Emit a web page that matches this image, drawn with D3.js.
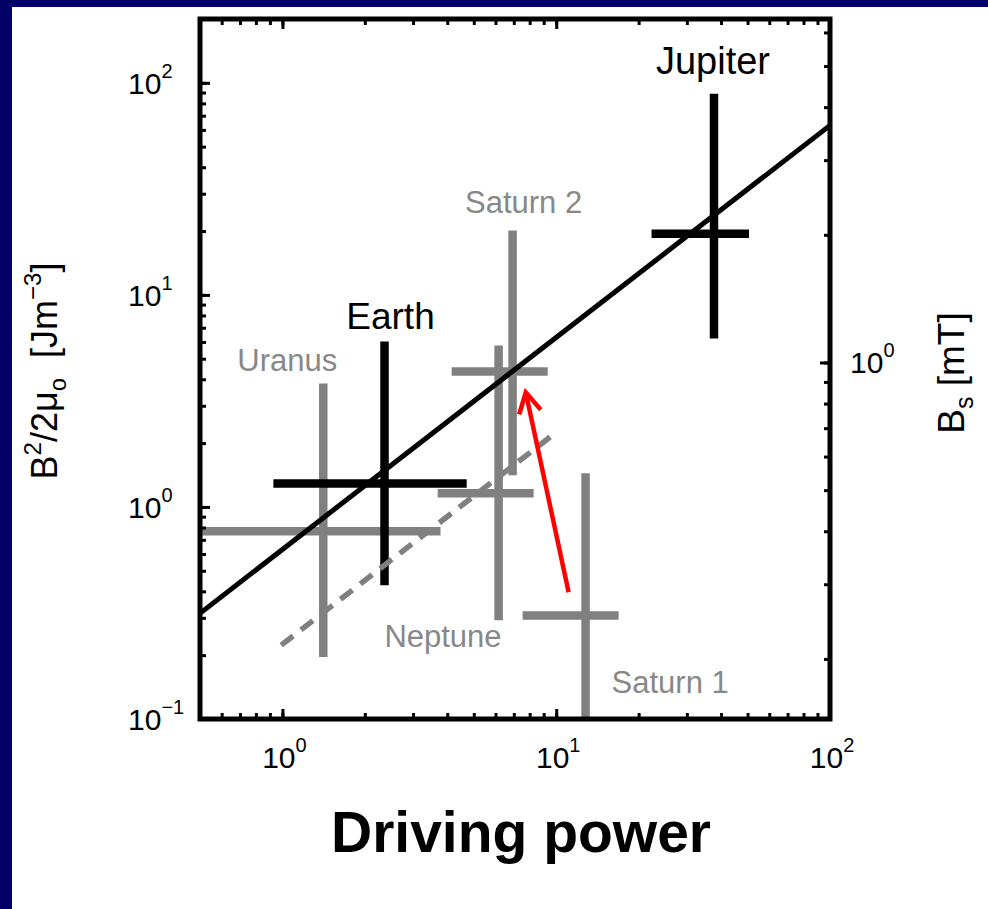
<!DOCTYPE html>
<html>
<head>
<meta charset="utf-8">
<script src="https://cdn.jsdelivr.net/npm/d3@7"></script>
<style>
  html, body { margin: 0; padding: 0; background: #ffffff; }
  svg { display: block; }
  text { font-family: "Liberation Sans", Arial, Helvetica, sans-serif; }
</style>
</head>
<body>
<svg id="chart" width="988" height="909"></svg>
<script>
// ---- data ----
const planets   = ["Uranus", "Neptune", "Saturn 1", "Saturn 2", "Earth", "Jupiter"];
const power     = [1.41, 6.16, 12.8, 6.93, 2.36, 37.7];
const powerLo   = [0.40, 3.69, 7.54, 4.15, 0.927, 22.3];
const powerHi   = [3.78, 8.27, 16.9, 9.31, 4.71, 50.6];
const energy    = [0.768, 1.16, 0.308, 4.35, 1.29, 19.4];
const energyLo  = [0.196, 0.292, 0.08, 1.41, 0.427, 6.22];
const energyHi  = [3.82, 5.77, 1.44, 20.1, 6.03, 88.8];

// best-fit scaling law and the shifted reference law (power, energy density)
const fitLine   = [[0.5, 0.315], [100, 63]];
const refLine   = [[0.99, 0.223], [9.87, 2.22]];
// Saturn shift: from Saturn 1 estimate towards Saturn 2 estimate
const shiftArrow = [[11.1, 0.396], [7.74, 3.47]];

const xTickValues = [1, 10, 100];
const xTickExp    = ["0", "1", "2"];
const yTickValues = [0.1, 1, 10, 100];
const yTickExp    = ["\u22121", "0", "1", "2"];
const bTickValues = [1];
const bTickExp    = ["0"];
const energyAtOneMilliTesla = 4.8;   // B^2/2mu0 at B_s = 1 mT on this axis

// ---- layout ----
const W = 988, H = 909;
const L = 200, R = 830, T = 19, B = 719;
const svg = d3.select("#chart");

svg.append("rect").attr("x", 0).attr("y", 0).attr("width", W).attr("height", H).attr("fill", "#fff");
// slide frame
svg.append("rect").attr("x", 0).attr("y", 0).attr("width", W).attr("height", 7).attr("fill", "#000066");
svg.append("rect").attr("x", 0).attr("y", 0).attr("width", 12).attr("height", H).attr("fill", "#000066");

const x = d3.scaleLog().domain([0.5, 100]).range([L, R]);
const y = d3.scaleLog().domain([0.1, 200]).range([B, T]);
const yB = d3.scaleLog()
  .domain([Math.sqrt(0.1 / energyAtOneMilliTesla), Math.sqrt(200 / energyAtOneMilliTesla)])
  .range([B, T]);

svg.append("clipPath").attr("id", "plotClip")
  .append("rect").attr("x", L).attr("y", T).attr("width", R - L).attr("height", B - T);

const plot = svg.append("g").attr("clip-path", "url(#plotClip)");

// ---- error crosses ----
const black = new Set(["Earth", "Jupiter"]);
const colorOf = name => black.has(name) ? "#000000" : "#808080";
const rows = planets.map((name, i) => ({
  name, p: power[i], pLo: powerLo[i], pHi: powerHi[i],
  e: energy[i], eLo: energyLo[i], eHi: energyHi[i]
}));
const order = rows.filter(d => !black.has(d.name)).concat(rows.filter(d => black.has(d.name)));

const crosses = plot.selectAll("g.cross").data(order).join("g").attr("class", "cross");
crosses.append("line")
  .attr("x1", d => x(d.pLo)).attr("x2", d => x(d.pHi))
  .attr("y1", d => y(d.e)).attr("y2", d => y(d.e))
  .attr("stroke", d => colorOf(d.name)).attr("stroke-width", 8.5);
crosses.append("line")
  .attr("x1", d => x(d.p)).attr("x2", d => x(d.p))
  .attr("y1", d => y(d.eLo)).attr("y2", d => y(d.eHi))
  .attr("stroke", d => colorOf(d.name)).attr("stroke-width", 8.5);

// ---- scaling laws ----
const line = d3.line().x(d => x(d[0])).y(d => y(d[1]));
plot.append("path").datum(refLine).attr("d", line)
  .attr("fill", "none").attr("stroke", "#808080").attr("stroke-width", 5.5)
  .attr("stroke-dasharray", "15 10");
plot.append("path").datum(fitLine).attr("d", line)
  .attr("fill", "none").attr("stroke", "#000").attr("stroke-width", 5);

// ---- arrow ----
const [a0, a1] = shiftArrow;
const ax0 = x(a0[0]), ay0 = y(a0[1]), ax1 = x(a1[0]), ay1 = y(a1[1]);
const ang = Math.atan2(ay1 - ay0, ax1 - ax0);
const head = 23, spread = 0.5;
plot.append("line").attr("x1", ax0).attr("y1", ay0).attr("x2", ax1).attr("y2", ay1)
  .attr("stroke", "#ff0000").attr("stroke-width", 4.5);
plot.append("path")
  .attr("d", `M${ax1 - head * Math.cos(ang - spread)},${ay1 - head * Math.sin(ang - spread)}` +
             `L${ax1},${ay1}` +
             `L${ax1 - head * Math.cos(ang + spread)},${ay1 - head * Math.sin(ang + spread)}`)
  .attr("fill", "none").attr("stroke", "#ff0000").attr("stroke-width", 4.5)
  .attr("stroke-linejoin", "miter");

// ---- planet labels ----
const labelPlace = {
  "Jupiter":  { at: "top",    dx: -1,  dy: -20, anchor: "middle", size: 38, fill: "#000" },
  "Earth":    { at: "top",    dx: 6,   dy: -12, anchor: "middle", size: 37, fill: "#000" },
  "Uranus":   { at: "top",    dx: -36, dy: -13, anchor: "middle", size: 31, fill: "#888" },
  "Saturn 2": { at: "top",    dx: 11,  dy: -18, anchor: "middle", size: 31, fill: "#888" },
  "Neptune":  { at: "bottom", dx: 3,   dy: 27,  anchor: "end",    size: 31, fill: "#888" },
  "Saturn 1": { at: "center", dx: 26,  dy: 78,  anchor: "start",  size: 31, fill: "#888" }
};
svg.append("g").selectAll("text").data(rows).join("text")
  .attr("x", d => x(d.p) + labelPlace[d.name].dx)
  .attr("y", d => {
    const lp = labelPlace[d.name];
    const base = lp.at === "top" ? y(d.eHi) : lp.at === "bottom" ? y(d.eLo) : y(d.e);
    return base + lp.dy;
  })
  .attr("text-anchor", d => labelPlace[d.name].anchor)
  .attr("font-size", d => labelPlace[d.name].size)
  .attr("fill", d => labelPlace[d.name].fill)
  .text(d => d.name);

// ---- axes: ticks on all four sides, pointing inwards ----
function tickAxis(axisFn, scale, values, size, transform) {
  const g = svg.append("g").attr("transform", transform)
    .call(axisFn(scale).tickValues(values).tickSize(size).tickFormat(""));
  g.select(".domain").remove();
  g.selectAll(".tick line").attr("stroke", "#000").attr("stroke-width", 3);
  return g;
}
const xMinor = x.ticks();
const yMinor = y.ticks();
const bMinor = yB.ticks();
tickAxis(d3.axisBottom, x, xMinor, -6, `translate(0,${B})`);
tickAxis(d3.axisBottom, x, xTickValues, -10, `translate(0,${B})`);
tickAxis(d3.axisTop, x, xMinor, -6, `translate(0,${T})`);
tickAxis(d3.axisTop, x, xTickValues, -10, `translate(0,${T})`);
tickAxis(d3.axisLeft, y, yMinor, -6, `translate(${L},0)`);
tickAxis(d3.axisLeft, y, yTickValues, -10, `translate(${L},0)`);
tickAxis(d3.axisRight, yB, bMinor, -6, `translate(${R},0)`);
tickAxis(d3.axisRight, yB, bTickValues, -10, `translate(${R},0)`);

// plot frame
svg.append("rect").attr("x", L).attr("y", T).attr("width", R - L).attr("height", B - T)
  .attr("fill", "none").attr("stroke", "#000").attr("stroke-width", 5);

// power-of-ten tick labels
function powLabel(g, px, py, exp, anchor) {
  const t = g.append("text").attr("x", px).attr("y", py).attr("text-anchor", anchor)
    .attr("font-size", 30).attr("fill", "#000");
  t.append("tspan").text("10");
  t.append("tspan").attr("font-size", 20).attr("dy", -16).text(exp);
}
const labels = svg.append("g");
xTickValues.forEach((v, i) => powLabel(labels, x(v) + 2, 768, xTickExp[i], "middle"));
yTickValues.forEach((v, i) => powLabel(labels, 128, y(v) + 11, yTickExp[i], "start"));
bTickValues.forEach((v, i) => powLabel(labels, 850, yB(v) + 11, bTickExp[i], "start"));

// axis titles
const yTitle = svg.append("text").attr("transform", "translate(57,371) rotate(-90)")
  .attr("text-anchor", "middle").attr("font-size", 36).attr("fill", "#000");
yTitle.append("tspan").text("B");
yTitle.append("tspan").attr("font-size", 24).attr("dy", -16).text("2");
yTitle.append("tspan").attr("dy", 16).text("/2\u03bc");
yTitle.append("tspan").attr("font-size", 24).attr("dy", 9).text("o");
yTitle.append("tspan").attr("dy", -9).text("\u00a0\u00a0[Jm");
yTitle.append("tspan").attr("font-size", 24).attr("dy", -16).text("\u22123");
yTitle.append("tspan").attr("dy", 16).text("]");

const bTitle = svg.append("text").attr("transform", "translate(964,373) rotate(-90)")
  .attr("text-anchor", "middle").attr("font-size", 37).attr("fill", "#000");
bTitle.append("tspan").text("B");
bTitle.append("tspan").attr("font-size", 25).attr("dy", 9).text("s");
bTitle.append("tspan").attr("dy", -9).text("\u00a0[mT]");

svg.append("text").attr("x", 521).attr("y", 852).attr("text-anchor", "middle")
  .attr("font-size", 57).attr("font-weight", "bold").attr("fill", "#000")
  .text("Driving power");
</script>
</body>
</html>
